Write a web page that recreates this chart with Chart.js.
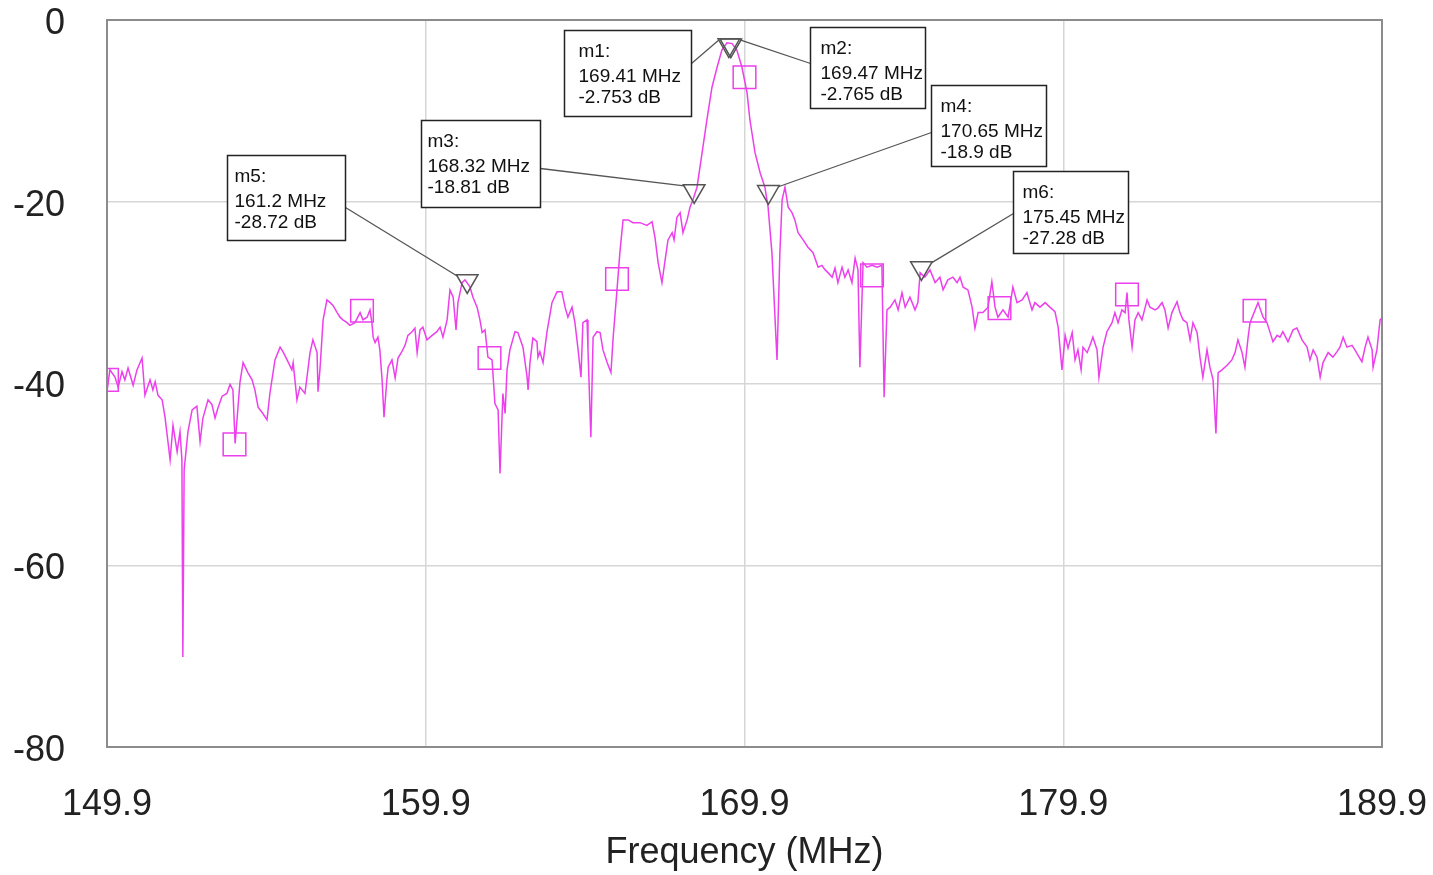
<!DOCTYPE html>
<html><head><meta charset="utf-8">
<script src="https://cdn.jsdelivr.net/npm/chart.js@4/dist/chart.umd.min.js"></script>
<style>html,body{margin:0;padding:0;background:#fff;}canvas{display:block;}</style>
</head><body>
<canvas id="c" width="1433" height="875"></canvas>
<script>
const xTickValues = [149.9, 159.9, 169.9, 179.9, 189.9];
const yTickValues = [0, -20, -40, -60, -80];
const xAxisTitle = 'Frequency (MHz)';

const traceFreqMHz = [
149.90,149.99,150.15,150.25,150.37,150.46,150.56,150.72,150.84,151.00,
151.09,151.25,151.34,151.41,151.50,151.63,151.72,151.88,151.97,152.10,
152.19,152.25,152.28,152.32,152.44,152.57,152.72,152.82,152.91,153.07,
153.19,153.29,153.38,153.51,153.66,153.76,153.85,153.92,154.07,154.17,
154.32,154.45,154.54,154.64,154.79,154.92,155.01,155.17,155.33,155.42,
155.55,155.70,155.74,155.86,155.95,156.11,156.27,156.36,156.49,156.52,
156.58,156.68,156.80,156.90,156.99,157.12,157.21,157.30,157.43,157.52,
157.68,157.84,157.93,158.06,158.15,158.21,158.25,158.31,158.40,158.46,
158.53,158.59,158.68,158.72,158.84,158.94,159.03,159.15,159.25,159.34,
159.47,159.56,159.63,159.72,159.81,159.94,160.10,160.25,160.35,160.44,
160.57,160.66,160.76,160.85,160.91,161.04,161.13,161.29,161.38,161.51,
161.60,161.67,161.76,161.85,161.98,162.07,162.17,162.23,162.32,162.39,
162.45,162.54,162.70,162.79,162.95,163.08,163.11,163.17,163.26,163.39,
163.42,163.48,163.58,163.70,163.86,164.02,164.17,164.27,164.36,164.49,
164.58,164.68,164.77,164.83,164.96,164.99,165.08,165.15,165.27,165.37,
165.46,165.59,165.71,165.78,165.90,165.99,166.09,166.25,166.40,166.62,
166.84,167.00,167.09,167.19,167.31,167.41,167.50,167.63,167.69,167.78,
167.88,167.97,168.10,168.19,168.28,168.41,168.57,168.72,168.88,169.04,
169.19,169.35,169.51,169.66,169.82,169.98,170.07,170.23,170.39,170.54,
170.64,170.76,170.86,170.92,171.01,171.08,171.17,171.27,171.39,171.48,
171.58,171.74,171.89,172.05,172.21,172.33,172.43,172.52,172.65,172.74,
172.83,172.96,173.05,173.15,173.27,173.37,173.46,173.52,173.62,173.74,
173.90,174.06,174.21,174.28,174.37,174.47,174.62,174.72,174.84,174.94,
175.09,175.25,175.34,175.41,175.56,175.72,175.88,176.03,176.13,176.28,
176.44,176.57,176.66,176.76,176.91,177.04,177.13,177.23,177.38,177.54,
177.66,177.76,177.85,178.01,178.17,178.32,178.45,178.61,178.76,178.92,
179.01,179.17,179.33,179.48,179.64,179.74,179.86,179.96,180.05,180.18,
180.27,180.36,180.46,180.52,180.65,180.74,180.83,180.96,181.02,181.15,
181.27,181.43,181.52,181.62,181.74,181.84,181.90,181.96,182.06,182.15,
182.25,182.37,182.53,182.62,182.78,182.87,183.00,183.09,183.19,183.31,
183.47,183.56,183.66,183.78,183.88,183.97,184.10,184.19,184.28,184.41,
184.50,184.60,184.69,184.76,184.88,185.04,185.19,185.29,185.38,185.51,
185.60,185.70,185.76,186.01,186.17,186.29,186.39,186.48,186.61,186.70,
186.79,186.95,187.11,187.23,187.39,187.55,187.64,187.74,187.86,187.96,
188.05,188.21,188.36,188.49,188.58,188.68,188.80,188.96,189.05,189.15,
189.27,189.37,189.46,189.59,189.62,189.74,189.84,189.90
];
const traceDb = [
-40.9,-38.5,-39.3,-40.4,-38.7,-39.6,-38.3,-40.2,-38.5,-37.2,
-41.3,-39.6,-40.7,-39.8,-41.3,-41.8,-43.7,-48.4,-44.6,-47.5,
-45.3,-48.4,-70.1,-49.5,-45.3,-42.9,-42.5,-46.4,-43.8,-41.8,
-42.3,-43.8,-42.7,-41.4,-41.1,-40.1,-40.7,-46.6,-39.9,-37.7,
-38.8,-39.6,-40.7,-42.6,-43.3,-44.0,-41.1,-37.4,-36.0,-36.5,
-37.4,-38.5,-37.7,-41.8,-40.4,-41.1,-36.6,-35.2,-36.6,-40.9,
-38.5,-33.0,-30.8,-31.1,-31.4,-32.2,-32.7,-33.0,-33.3,-33.6,
-33.3,-32.2,-33.0,-32.7,-31.9,-33.3,-34.9,-35.5,-34.9,-36.3,
-39.6,-43.7,-39.6,-38.2,-37.4,-39.4,-37.2,-36.5,-35.8,-34.7,
-34.3,-33.9,-36.6,-34.1,-33.8,-35.2,-34.7,-34.3,-33.8,-34.9,
-33.0,-29.7,-30.5,-34.1,-31.1,-28.9,-28.6,-29.4,-30.5,-31.6,
-33.0,-34.4,-34.1,-37.1,-37.4,-42.2,-42.9,-49.9,-41.1,-43.3,
-38.5,-36.3,-34.3,-34.4,-36.0,-39.3,-40.7,-37.7,-35.0,-35.4,
-37.1,-36.5,-37.7,-34.4,-31.1,-29.9,-29.9,-31.6,-32.7,-31.6,
-33.3,-36.3,-39.3,-33.3,-33.0,-36.3,-45.9,-34.9,-34.3,-34.4,
-36.3,-37.7,-38.8,-34.9,-29.7,-25.6,-22.0,-22.0,-22.3,-22.3,
-22.6,-22.2,-23.9,-26.7,-28.9,-26.4,-24.2,-23.4,-24.2,-21.7,
-21.2,-23.4,-22.0,-20.6,-19.8,-18.4,-14.6,-11.0,-7.4,-5.2,
-3.3,-2.5,-2.6,-3.3,-5.2,-8.0,-11.0,-14.6,-16.8,-18.4,
-20.6,-25.6,-33.0,-37.4,-25.6,-19.8,-18.4,-20.6,-21.2,-22.0,
-23.4,-24.2,-25.0,-25.6,-27.2,-27.0,-27.5,-27.8,-28.3,-27.3,
-28.9,-27.2,-28.3,-27.5,-28.9,-26.2,-27.5,-38.2,-26.7,-27.2,
-27.0,-27.2,-27.0,-41.5,-31.9,-31.6,-30.8,-31.9,-30.0,-31.6,
-30.5,-31.9,-31.1,-27.8,-28.3,-27.5,-28.9,-28.3,-29.7,-28.6,
-28.3,-28.9,-28.3,-29.4,-29.7,-31.6,-33.9,-32.2,-32.2,-31.6,
-28.8,-31.6,-32.7,-31.9,-32.7,-29.4,-31.1,-30.8,-30.0,-31.9,
-31.1,-31.6,-31.1,-31.6,-32.1,-33.8,-38.5,-34.7,-36.1,-34.4,
-37.4,-36.3,-38.5,-36.0,-36.6,-35.8,-34.9,-36.3,-39.3,-36.0,
-34.3,-33.3,-32.2,-33.3,-31.9,-32.2,-30.0,-33.0,-36.0,-33.0,
-32.2,-33.0,-30.8,-31.6,-31.9,-31.7,-31.1,-31.9,-33.9,-32.2,
-31.0,-32.2,-33.0,-33.3,-35.2,-33.3,-34.4,-37.1,-39.3,-36.3,
-38.2,-39.6,-45.5,-38.8,-38.5,-38.0,-37.4,-36.6,-35.2,-36.6,
-38.2,-34.9,-33.3,-31.1,-32.7,-33.3,-34.4,-35.4,-34.7,-34.9,
-34.3,-35.4,-34.1,-33.9,-35.2,-36.0,-37.4,-36.3,-37.1,-39.3,
-37.7,-36.6,-37.1,-36.5,-36.0,-34.9,-36.0,-35.8,-36.3,-36.9,
-37.6,-36.0,-34.9,-36.3,-38.2,-36.3,-33.0,-32.8
];

const squareFreqMHz = [149.9, 153.9, 157.9, 161.9, 165.9, 169.9, 173.9, 177.9, 181.9, 185.9];
const squareDb = [-39.6, -46.7, -32.0, -37.2, -28.5, -6.3, -28.1, -31.7, -30.2, -32.0];

const markerNames = ['m1', 'm2', 'm3', 'm4', 'm5', 'm6'];
const markerFreqMHz = [169.41, 169.47, 168.32, 170.65, 161.2, 175.45];
const markerDb = [-2.753, -2.765, -18.81, -18.9, -28.72, -27.28];

// label box layout (pixel offsets relative to the marker point)
const markerBoxes = [
  {dx:-165, dy:-15,  w:127, h:86, side:'right', ly:33, tx:14},
  {dx:79,   dy:-18,  w:115, h:81, side:'left',  ly:36, tx:10},
  {dx:-273, dy:-71,  w:119, h:87, side:'right', ly:48, tx:6},
  {dx:163,  dy:-107, w:115, h:81, side:'left',  ly:47, tx:9},
  {dx:-240, dy:-126, w:118, h:85, side:'right', ly:52, tx:7},
  {dx:92,   dy:-97,  w:115, h:82, side:'left',  ly:42, tx:9}
];

const MAGENTA = 'rgb(236,64,236)';
const FONT = '"Liberation Sans", Arial, sans-serif';

const tracePts = traceFreqMHz.map((f, i) => ({x: f, y: traceDb[i]}));
const squarePts = squareFreqMHz.map((f, i) => ({x: f, y: squareDb[i]}));
const markerPts = markerFreqMHz.map((f, i) => ({x: f, y: markerDb[i]}));

const annotPlugin = {
  id: 'annot',
  beforeDatasetsDraw(chart) {
    const ctx = chart.ctx, a = chart.chartArea;
    ctx.save();
    ctx.strokeStyle = '#8c8c8c';
    ctx.lineWidth = 2;
    ctx.strokeRect(a.left, a.top, a.right - a.left, a.bottom - a.top);
    ctx.restore();
  },
  afterDatasetsDraw(chart) {
    const ctx = chart.ctx, xs = chart.scales.x, ys = chart.scales.y;
    ctx.save();
    markerNames.forEach((name, i) => {
      const px = xs.getPixelForValue(markerFreqMHz[i]);
      const py = ys.getPixelForValue(markerDb[i]);
      const b = markerBoxes[i];
      const bx = Math.round(px + b.dx) + 0.5, by = Math.round(py + b.dy) + 0.5;
      const sx = b.side === 'right' ? bx + b.w : bx;
      const sy = by + b.ly;
      const ex = px + (b.side === 'right' ? -10 : 10);
      const ey = py - 5;
      ctx.strokeStyle = '#555';
      ctx.lineWidth = 1.3;
      ctx.beginPath(); ctx.moveTo(sx, sy); ctx.lineTo(ex, ey); ctx.stroke();
      ctx.fillStyle = '#fff';
      ctx.fillRect(bx, by, b.w, b.h);
      ctx.strokeStyle = '#222';
      ctx.lineWidth = 1.5;
      ctx.strokeRect(bx, by, b.w, b.h);
      ctx.fillStyle = '#111';
      ctx.font = '19px ' + FONT;
      ctx.textAlign = 'left';
      ctx.textBaseline = 'middle';
      ctx.fillText(name + ':', bx + b.tx, by + 21);
      ctx.fillText(markerFreqMHz[i] + ' MHz', bx + b.tx, by + 46);
      ctx.fillText(markerDb[i] + ' dB', bx + b.tx, by + 67);
    });
    ctx.restore();
  }
};

new Chart(document.getElementById('c'), {
  type: 'scatter',
  data: {
    datasets: [
      {data: tracePts, showLine: true, borderColor: MAGENTA, borderWidth: 1.5, pointRadius: 0, tension: 0, order: 3},
      {data: squarePts, showLine: false, pointStyle: 'rect', pointRadius: 16, borderColor: MAGENTA, borderWidth: 1.5, backgroundColor: 'rgba(0,0,0,0)', clip: 0, order: 2},
      {data: markerPts, showLine: false, pointStyle: 'triangle', rotation: 180, pointRadius: 12.5, borderColor: '#555', borderWidth: 1.5, backgroundColor: 'rgba(0,0,0,0)', order: 1}
    ]
  },
  options: {
    responsive: false,
    animation: false,
    devicePixelRatio: 1,
    layout: {padding: {top: 20, right: 51, left: 0, bottom: 0}},
    plugins: {legend: {display: false}, tooltip: {enabled: false}},
    scales: {
      x: {
        type: 'linear', min: 149.9, max: 189.9,
        afterBuildTicks: s => { s.ticks = xTickValues.map(v => ({value: v})); },
        afterFit: s => { s.height = 128; s.paddingLeft = 0; s.paddingRight = 0; },
        ticks: {callback: v => Number(v).toFixed(1), font: {family: FONT, size: 36}, color: '#222', padding: 36, maxRotation: 0, autoSkip: false},
        grid: {color: '#d6d6d6', lineWidth: 1.5, drawTicks: false},
        border: {display: false},
        title: {display: true, text: xAxisTitle, font: {family: FONT, size: 36}, color: '#222', padding: {top: 0, bottom: 0}}
      },
      y: {
        type: 'linear', min: -80, max: 0,
        afterBuildTicks: s => { s.ticks = yTickValues.map(v => ({value: v})); },
        afterFit: s => { s.width = 107; s.paddingTop = 0; s.paddingBottom = 0; },
        ticks: {callback: v => String(v), font: {family: FONT, size: 36}, color: '#222', padding: 42, labelOffset: 4},
        grid: {color: '#d6d6d6', lineWidth: 1.5, drawTicks: false},
        border: {display: false}
      }
    }
  },
  plugins: [annotPlugin]
});
</script>
</body></html>
